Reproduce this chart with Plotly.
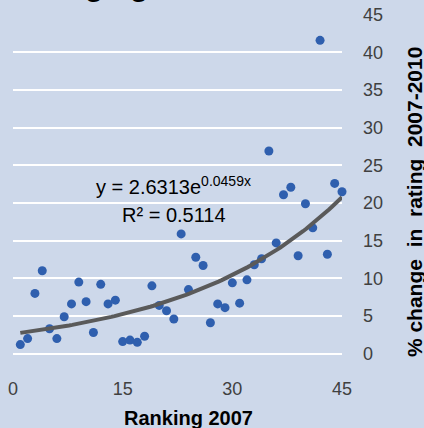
import numpy as np
import plotly.graph_objects as go

# Data
ranking_2007 = list(range(1, 46))
pct_change = [1.2, 2.0, 8.0, 11.0, 3.3, 2.0, 4.9, 6.6, 9.5, 6.9,
              2.8, 9.2, 6.6, 7.1, 1.6, 1.8, 1.5, 2.3, 9.0, 6.4,
              5.7, 4.6, 15.9, 8.5, 12.8, 11.7, 4.1, 6.6, 6.1, 9.4,
              6.7, 9.8, 11.8, 12.6, 26.9, 14.7, 21.1, 22.1, 13.0, 19.9,
              16.7, 41.6, 13.2, 22.6, 21.5]

# Exponential trendline parameters shown on the chart
trend_a = 2.6313
trend_b = 0.0459
x_ticks = [0, 15, 30, 45]
y_ticks = [0, 5, 10, 15, 20, 25, 30, 35, 40, 45]

trend_x = np.linspace(min(ranking_2007), max(ranking_2007), 100)
trend_y = trend_a * np.exp(trend_b * trend_x)

BG = "#CDD8EA"
FONT = "Arial, Liberation Sans, sans-serif"

fig = go.Figure()
fig.add_trace(go.Scatter(
    x=ranking_2007, y=pct_change, mode="markers",
    marker=dict(size=9, color="#2F5FAE"),
    cliponaxis=False, showlegend=False))
fig.add_trace(go.Scatter(
    x=trend_x, y=trend_y, mode="lines",
    line=dict(color="#5A5A5A", width=4),
    cliponaxis=False, showlegend=False))

fig.update_layout(
    width=424, height=428,
    margin=dict(l=13, r=82, t=14, b=74),
    paper_bgcolor=BG, plot_bgcolor=BG,
    font=dict(family=FONT, size=18, color="#404040"),
    xaxis=dict(range=[0, 45], tickvals=x_ticks, showgrid=False,
               zeroline=False, showline=False, ticks="",
               ticklabelstandoff=22, automargin=False,
               tickfont=dict(size=18, color="#404040")),
    yaxis=dict(range=[-0.05, 45.1], tickvals=y_ticks, side="right",
               showgrid=True, gridcolor="white", gridwidth=2,
               zeroline=True, zerolinecolor="white", zerolinewidth=2,
               showline=False, ticks="", ticklabelstandoff=20,
               automargin=False,
               tickfont=dict(size=18, color="#404040")),
)

annotations = [
    dict(text="<b>Ranking 2007</b>", x=0.532, y=-0.188, xref="paper", yref="paper",
         xanchor="center", yanchor="middle", showarrow=False,
         font=dict(size=20, color="black", family=FONT)),
    dict(text="<b>% change  in  rating  2007-2010</b>", x=1.219, y=0.447,
         xref="paper", yref="paper", xanchor="center", yanchor="middle",
         textangle=-90, showarrow=False,
         font=dict(size=21, color="black", family=FONT)),
    dict(text="y = 2.6313e<sup>0.0459x</sup>", x=0.489, y=0.495,
         xref="paper", yref="paper", xanchor="center", yanchor="middle",
         showarrow=False, font=dict(size=20, color="black", family=FONT)),
    dict(text="R² = 0.5114", x=0.489, y=0.409,
         xref="paper", yref="paper", xanchor="center", yanchor="middle",
         showarrow=False, font=dict(size=20, color="black", family=FONT)),
    dict(text="<b>Changing</b>", x=-0.015, y=1.0845,
         xref="paper", yref="paper", xanchor="left", yanchor="middle",
         showarrow=False, font=dict(size=30, color="black", family=FONT)),
]
fig.update_layout(annotations=annotations)

fig.write_html("out.html",
               config={"displayModeBar": False},
               post_script="document.body.style.margin='0';document.body.style.overflow='hidden';")
